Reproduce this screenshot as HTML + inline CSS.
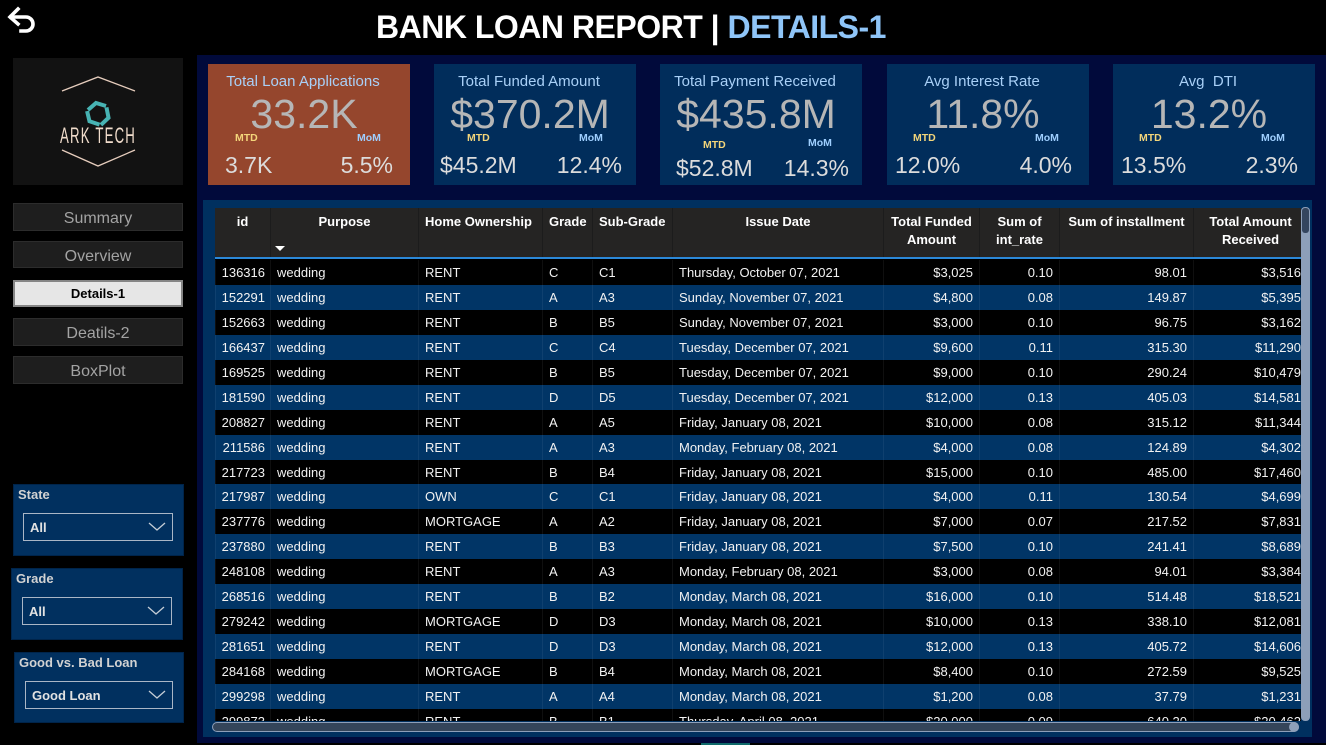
<!DOCTYPE html>
<html><head><meta charset="utf-8">
<style>
*{margin:0;padding:0;box-sizing:border-box}
body{width:1326px;height:745px;background:#000;position:relative;overflow:hidden;font-family:"Liberation Sans","DejaVu Sans",sans-serif;color:#fff}
.a{position:absolute}
.navy{left:197px;top:55px;width:1129px;height:688px;background:#010a3b}
.title{left:0;top:8px;width:1262px;text-align:center;font-size:32px;font-weight:bold;letter-spacing:-0.5px;line-height:38px;padding-left:0}
.card{top:64px;width:202px;height:121px;background:#012d5b}
.ct{font-size:15px;color:#a9d0f7;line-height:18px;text-align:center;top:73px;width:202px;padding-right:12px}
.cv{font-size:41px;color:#b6b6b6;line-height:42px;text-align:center;top:93px;width:202px;padding-right:10px}
.mtd{font-size:10.5px;font-weight:bold;color:#f3d57a;line-height:12px}
.mom{font-size:10.5px;font-weight:bold;color:#9fcfff;line-height:12px}
.bv{font-size:23px;color:#dcdcdc;line-height:23px;top:154px;white-space:nowrap}
.nav{left:13px;width:170px;background:#1e1e1e;border:1px solid #2c2c2c;color:#a3a3a3;font-size:16px;text-align:center}
.sl{background:#01305f;border:1px solid #00244a}
.sll{font-size:13px;font-weight:bold;color:#d2d2d2;line-height:16px}
.dd{border:1.5px solid #aab6c6;height:28px;font-size:13px;font-weight:bold;color:#e2e2e2;line-height:25px;padding-left:6px}
.dd svg{position:absolute;right:6px;top:8px}
.panel{left:203px;top:200px;width:1109px;height:537px;background:#00305f}
.tbl{left:215px;top:208px;width:1086px;height:513px;overflow:hidden;background:#000}
.hdr{left:0;top:0;width:1100px;height:51px;background:#252423;display:flex;font-size:13px;font-weight:bold;line-height:18px;border-bottom:2px solid #2b88d8}
.hdr div{padding-top:5px;border-left:1px solid #1c1c1c}
.row{position:absolute;left:0;width:1100px;height:25px;display:flex;font-size:13px;line-height:25px;color:#f2f2f2;white-space:nowrap}
.row:nth-child(even){background:#013566}
.row:nth-child(odd){background:#000}
.row div{border-left:1px solid rgba(255,255,255,0.06);overflow:hidden}
.c1{width:55px;text-align:right;padding-right:5px}
.c2{width:148px;padding-left:6px}
.c3{width:124px;padding-left:6px}
.c4{width:50px;padding-left:6px}
.c5{width:80px;padding-left:6px}
.c6{width:211px;padding-left:6px}
.c7{width:96px;text-align:right;padding-right:6px}
.c8{width:80px;text-align:right;padding-right:6px}
.c9{width:134px;text-align:right;padding-right:6px}
.c10{width:122px;text-align:right;padding-right:14px}
.hdr .c1,.hdr .c2,.hdr .c6,.hdr .c7,.hdr .c8,.hdr .c9,.hdr .c10{text-align:center;padding-left:0;padding-right:0}
.hdr .c10{padding-right:8px}
.hdr .c1{border-left:none}
</style></head><body>

<svg class="a" style="left:6px;top:4px" width="32" height="32" viewBox="0 0 32 32">
<path d="M6 13 H20 A7 7 0 0 1 20 27 H15" fill="none" stroke="#fff" stroke-width="3.6" stroke-linecap="square"/>
<path d="M4 13 L12 5 M4 13 L12 20" fill="none" stroke="#fff" stroke-width="3.6" stroke-linecap="square"/>
</svg>

<div class="a title"><span style="color:#fff">BANK LOAN REPORT | </span><span style="color:#8fc5f8">DETAILS-1</span></div>

<div class="a navy"></div>

<!-- logo -->
<div class="a" style="left:13px;top:58px;width:170px;height:127px;background:#121212"></div>
<svg class="a" style="left:13px;top:58px" width="170" height="127" viewBox="0 0 170 127">
<polyline points="49,33 85,19 122,33" fill="none" stroke="#e6cdbd" stroke-width="1.3"/>
<polyline points="49,92 85,108 122,92" fill="none" stroke="#e6cdbd" stroke-width="1.3"/>
<g fill="none" stroke="#47b3b3" stroke-width="4" stroke-linejoin="miter" transform="translate(85,56)">
<polyline points="-10,-4 -2,-11 8,-8"/>
<polyline points="-10,-4 -2,-11 8,-8" transform="rotate(120)"/>
<polyline points="-10,-4 -2,-11 8,-8" transform="rotate(240)"/>
</g>
<text x="85" y="85" text-anchor="middle" font-family="Liberation Sans, sans-serif" font-size="22" fill="#f0dccb" transform="translate(85,0) scale(0.6,1) translate(-85,0)" letter-spacing="2">ARK TECH</text>
</svg>

<!-- cards -->
<div class="a card" style="left:208px;background:#95462d"></div>
<div class="a card" style="left:434px"></div>
<div class="a card" style="left:660px"></div>
<div class="a card" style="left:887px"></div>
<div class="a card" style="left:1113px"></div>

<div class="a ct" style="left:208px">Total Loan Applications</div>
<div class="a ct" style="left:434px">Total Funded Amount</div>
<div class="a ct" style="left:660px">Total Payment Received</div>
<div class="a ct" style="left:887px">Avg Interest Rate</div>
<div class="a ct" style="left:1113px">Avg&nbsp; DTI</div>

<div class="a cv" style="left:208px">33.2K</div>
<div class="a cv" style="left:434px">$370.2M</div>
<div class="a cv" style="left:660px">$435.8M</div>
<div class="a cv" style="left:887px">11.8%</div>
<div class="a cv" style="left:1113px">13.2%</div>

<div class="a mtd" style="left:235px;top:132px">MTD</div>
<div class="a mom" style="left:357px;top:132px">MoM</div>
<div class="a mtd" style="left:467px;top:132px">MTD</div>
<div class="a mom" style="left:579px;top:132px">MoM</div>
<div class="a mtd" style="left:703px;top:139px">MTD</div>
<div class="a mom" style="left:808px;top:137px">MoM</div>
<div class="a mtd" style="left:913px;top:132px">MTD</div>
<div class="a mom" style="left:1035px;top:132px">MoM</div>
<div class="a mtd" style="left:1139px;top:132px">MTD</div>
<div class="a mom" style="left:1261px;top:132px">MoM</div>

<div class="a bv" style="left:225px">3.7K</div>
<div class="a bv" style="right:933px">5.5%</div>
<div class="a bv" style="left:440px">$45.2M</div>
<div class="a bv" style="right:704px">12.4%</div>
<div class="a bv" style="left:676px;top:157px">$52.8M</div>
<div class="a bv" style="right:477px;top:157px">14.3%</div>
<div class="a bv" style="left:895px">12.0%</div>
<div class="a bv" style="right:254px">4.0%</div>
<div class="a bv" style="left:1121px">13.5%</div>
<div class="a bv" style="right:28px">2.3%</div>

<!-- nav -->
<div class="a nav" style="top:203px;height:28px;line-height:29px">Summary</div>
<div class="a nav" style="top:241px;height:27px;line-height:29px">Overview</div>
<div class="a nav" style="top:280px;height:27px;line-height:24px;background:#e6e6e6;border:2px solid #858585;color:#000;font-size:13px;font-weight:bold">Details-1</div>
<div class="a nav" style="top:318px;height:28px;line-height:29px">Deatils-2</div>
<div class="a nav" style="top:356px;height:28px;line-height:29px">BoxPlot</div>

<!-- slicers -->
<div class="a sl" style="left:13px;top:484px;width:171px;height:72px"></div>
<div class="a sll" style="left:18px;top:487px">State</div>
<div class="a dd" style="left:23px;top:513px;width:150px;line-height:28px">All<svg width="18" height="10"><polyline points="1,1 9,8 17,1" fill="none" stroke="#c5cdd6" stroke-width="1.3"/></svg></div>

<div class="a sl" style="left:11px;top:568px;width:172px;height:72px"></div>
<div class="a sll" style="left:16px;top:571px">Grade</div>
<div class="a dd" style="left:22px;top:597px;width:150px;line-height:28px">All<svg width="18" height="10"><polyline points="1,1 9,8 17,1" fill="none" stroke="#c5cdd6" stroke-width="1.3"/></svg></div>

<div class="a sl" style="left:14px;top:652px;width:170px;height:71px"></div>
<div class="a sll" style="left:19px;top:655px">Good vs. Bad Loan</div>
<div class="a dd" style="left:25px;top:681px;width:148px;line-height:28px">Good Loan<svg width="18" height="10"><polyline points="1,1 9,8 17,1" fill="none" stroke="#c5cdd6" stroke-width="1.3"/></svg></div>

<!-- table -->
<div class="a panel"></div>
<div class="a tbl">
<div class="a hdr">
<div class="c1">id</div><div class="c2">Purpose</div><div class="c3">Home Ownership</div><div class="c4">Grade</div><div class="c5">Sub-Grade</div><div class="c6">Issue Date</div><div class="c7">Total Funded<br>Amount</div><div class="c8">Sum of<br>int_rate</div><div class="c9">Sum of installment</div><div class="c10">Total Amount<br>Received</div>
</div>
<svg class="a" style="left:60px;top:38px" width="10" height="6"><polygon points="0,0 10,0 5,5" fill="#fff"/></svg>
<div class="a" style="left:0;top:52px;width:1100px;height:480px">
<div class="row" style="top:0px"><div class="c1">136316</div><div class="c2">wedding</div><div class="c3">RENT</div><div class="c4">C</div><div class="c5">C1</div><div class="c6">Thursday, October 07, 2021</div><div class="c7">$3,025</div><div class="c8">0.10</div><div class="c9">98.01</div><div class="c10">$3,516</div></div>
<div class="row" style="top:24.94px"><div class="c1">152291</div><div class="c2">wedding</div><div class="c3">RENT</div><div class="c4">A</div><div class="c5">A3</div><div class="c6">Sunday, November 07, 2021</div><div class="c7">$4,800</div><div class="c8">0.08</div><div class="c9">149.87</div><div class="c10">$5,395</div></div>
<div class="row" style="top:49.88px"><div class="c1">152663</div><div class="c2">wedding</div><div class="c3">RENT</div><div class="c4">B</div><div class="c5">B5</div><div class="c6">Sunday, November 07, 2021</div><div class="c7">$3,000</div><div class="c8">0.10</div><div class="c9">96.75</div><div class="c10">$3,162</div></div>
<div class="row" style="top:74.82px"><div class="c1">166437</div><div class="c2">wedding</div><div class="c3">RENT</div><div class="c4">C</div><div class="c5">C4</div><div class="c6">Tuesday, December 07, 2021</div><div class="c7">$9,600</div><div class="c8">0.11</div><div class="c9">315.30</div><div class="c10">$11,290</div></div>
<div class="row" style="top:99.76px"><div class="c1">169525</div><div class="c2">wedding</div><div class="c3">RENT</div><div class="c4">B</div><div class="c5">B5</div><div class="c6">Tuesday, December 07, 2021</div><div class="c7">$9,000</div><div class="c8">0.10</div><div class="c9">290.24</div><div class="c10">$10,479</div></div>
<div class="row" style="top:124.7px"><div class="c1">181590</div><div class="c2">wedding</div><div class="c3">RENT</div><div class="c4">D</div><div class="c5">D5</div><div class="c6">Tuesday, December 07, 2021</div><div class="c7">$12,000</div><div class="c8">0.13</div><div class="c9">405.03</div><div class="c10">$14,581</div></div>
<div class="row" style="top:149.64px"><div class="c1">208827</div><div class="c2">wedding</div><div class="c3">RENT</div><div class="c4">A</div><div class="c5">A5</div><div class="c6">Friday, January 08, 2021</div><div class="c7">$10,000</div><div class="c8">0.08</div><div class="c9">315.12</div><div class="c10">$11,344</div></div>
<div class="row" style="top:174.58px"><div class="c1">211586</div><div class="c2">wedding</div><div class="c3">RENT</div><div class="c4">A</div><div class="c5">A3</div><div class="c6">Monday, February 08, 2021</div><div class="c7">$4,000</div><div class="c8">0.08</div><div class="c9">124.89</div><div class="c10">$4,302</div></div>
<div class="row" style="top:199.52px"><div class="c1">217723</div><div class="c2">wedding</div><div class="c3">RENT</div><div class="c4">B</div><div class="c5">B4</div><div class="c6">Friday, January 08, 2021</div><div class="c7">$15,000</div><div class="c8">0.10</div><div class="c9">485.00</div><div class="c10">$17,460</div></div>
<div class="row" style="top:224.46px"><div class="c1">217987</div><div class="c2">wedding</div><div class="c3">OWN</div><div class="c4">C</div><div class="c5">C1</div><div class="c6">Friday, January 08, 2021</div><div class="c7">$4,000</div><div class="c8">0.11</div><div class="c9">130.54</div><div class="c10">$4,699</div></div>
<div class="row" style="top:249.4px"><div class="c1">237776</div><div class="c2">wedding</div><div class="c3">MORTGAGE</div><div class="c4">A</div><div class="c5">A2</div><div class="c6">Friday, January 08, 2021</div><div class="c7">$7,000</div><div class="c8">0.07</div><div class="c9">217.52</div><div class="c10">$7,831</div></div>
<div class="row" style="top:274.34px"><div class="c1">237880</div><div class="c2">wedding</div><div class="c3">RENT</div><div class="c4">B</div><div class="c5">B3</div><div class="c6">Friday, January 08, 2021</div><div class="c7">$7,500</div><div class="c8">0.10</div><div class="c9">241.41</div><div class="c10">$8,689</div></div>
<div class="row" style="top:299.28px"><div class="c1">248108</div><div class="c2">wedding</div><div class="c3">RENT</div><div class="c4">A</div><div class="c5">A3</div><div class="c6">Monday, February 08, 2021</div><div class="c7">$3,000</div><div class="c8">0.08</div><div class="c9">94.01</div><div class="c10">$3,384</div></div>
<div class="row" style="top:324.22px"><div class="c1">268516</div><div class="c2">wedding</div><div class="c3">RENT</div><div class="c4">B</div><div class="c5">B2</div><div class="c6">Monday, March 08, 2021</div><div class="c7">$16,000</div><div class="c8">0.10</div><div class="c9">514.48</div><div class="c10">$18,521</div></div>
<div class="row" style="top:349.16px"><div class="c1">279242</div><div class="c2">wedding</div><div class="c3">MORTGAGE</div><div class="c4">D</div><div class="c5">D3</div><div class="c6">Monday, March 08, 2021</div><div class="c7">$10,000</div><div class="c8">0.13</div><div class="c9">338.10</div><div class="c10">$12,081</div></div>
<div class="row" style="top:374.1px"><div class="c1">281651</div><div class="c2">wedding</div><div class="c3">RENT</div><div class="c4">D</div><div class="c5">D3</div><div class="c6">Monday, March 08, 2021</div><div class="c7">$12,000</div><div class="c8">0.13</div><div class="c9">405.72</div><div class="c10">$14,606</div></div>
<div class="row" style="top:399.04px"><div class="c1">284168</div><div class="c2">wedding</div><div class="c3">MORTGAGE</div><div class="c4">B</div><div class="c5">B4</div><div class="c6">Monday, March 08, 2021</div><div class="c7">$8,400</div><div class="c8">0.10</div><div class="c9">272.59</div><div class="c10">$9,525</div></div>
<div class="row" style="top:423.98px"><div class="c1">299298</div><div class="c2">wedding</div><div class="c3">RENT</div><div class="c4">A</div><div class="c5">A4</div><div class="c6">Monday, March 08, 2021</div><div class="c7">$1,200</div><div class="c8">0.08</div><div class="c9">37.79</div><div class="c10">$1,231</div></div>
<div class="row" style="top:448.92px"><div class="c1">299873</div><div class="c2">wedding</div><div class="c3">RENT</div><div class="c4">B</div><div class="c5">B1</div><div class="c6">Thursday, April 08, 2021</div><div class="c7">$20,000</div><div class="c8">0.09</div><div class="c9">640.20</div><div class="c10">$20,462</div></div>
</div>
</div>

<!-- scrollbars -->
<div class="a" style="left:1301px;top:207px;width:9px;height:514px;background:#8d9fb9;border-radius:4px"></div>
<div class="a" style="left:1302px;top:208px;width:7px;height:25px;background:#34455e;border-radius:3px"></div>
<div class="a" style="left:212px;top:722px;width:1087px;height:10px;background:#34455a;border:1.5px solid #8d9fb9;border-radius:5px"></div>
<div class="a" style="left:1289px;top:722px;width:10px;height:10px;background:#8d9fb9;border-radius:5px"></div>

<div class="a" style="left:0;top:743px;width:1326px;height:2px;background:#000"></div>
<div class="a" style="left:701px;top:743px;width:49px;height:2px;background:#0f6a6a"></div>
</body></html>
